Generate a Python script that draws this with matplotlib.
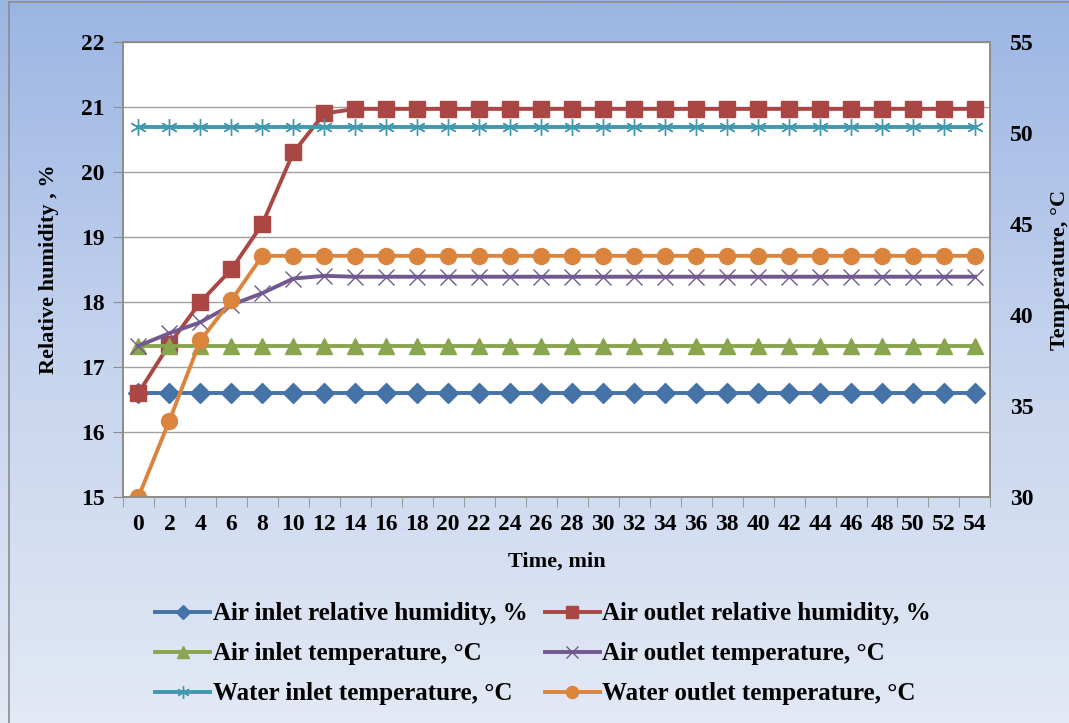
import numpy as np
import matplotlib
matplotlib.use("Agg")
import matplotlib.pyplot as plt
from matplotlib.colors import LinearSegmentedColormap

plt.rcParams['font.family'] = ['Liberation Serif', 'DejaVu Serif']
plt.rcParams['font.weight'] = 'bold'

# time axis (categories)
time_min = list(range(0, 56, 2))
n = len(time_min)

# left axis (%)
air_in_rh = [16.6] * n
air_out_rh = [16.6, 17.35, 18.0, 18.5, 19.2, 20.3, 20.9] + [20.97] * (n - 7)

# right axis (deg C)
air_in_t = [38.3] * n
air_out_t = [38.3, 39.0, 39.6, 40.55, 41.2, 42.0, 42.15] + [42.1] * (n - 7)
water_in_t = [50.3] * n
water_out_t = [30.0, 34.2, 38.6, 40.8] + [43.25] * (n - 4)

c_blue = '#4572A7'
c_red = '#AA4643'
c_green = '#89A54E'
c_purple = '#71588F'
c_teal = '#4198AF'
c_orange = '#DB843D'

fig = plt.figure(figsize=(10.69, 7.23), dpi=100)

# gradient background
bg = fig.add_axes([0, 0, 1, 1], zorder=-10)
cmap = LinearSegmentedColormap.from_list('bg', ['#9bb5e3', '#c6d4ee', '#e3e9f5'])
grad = np.linspace(0, 1, 256).reshape(-1, 1)
bg.imshow(grad, aspect='auto', cmap=cmap, extent=[0, 1, 0, 1], origin='upper')
bg.set_xlim(0, 1)
bg.set_ylim(0, 1)
bg.axis('off')
bg.plot([0.008, 0.008], [0, 0.997], color='#8c8c8c', lw=1.2)
bg.plot([0.008, 1], [0.997, 0.997], color='#8c8c8c', lw=1.2)

ax = fig.add_axes([0.115, 0.3126, 0.8115, 0.6294])
ax.set_facecolor('white')
ax2 = ax.twinx()

x = np.arange(n)
lw = 2.8
ax.plot(x, air_in_rh, color=c_blue, lw=lw, marker='D', ms=10, label='Air inlet relative humidity, %')
ax.plot(x, air_out_rh, color=c_red, lw=lw, marker='s', ms=11.5, label='Air outlet relative humidity, %')
ax2.plot(x, air_in_t, color=c_green, lw=lw, marker='^', ms=11, label='Air inlet temperature, °C')
ax2.plot(x, air_out_t, color=c_purple, lw=lw, marker='x', ms=11, mew=1.0, label='Air outlet temperature, °C')
ax2.plot(x, water_in_t, color=c_teal, lw=lw, marker=(6, 2, 0), ms=12, mew=1.0, label='Water inlet temperature, °C')
ax2.plot(x, water_out_t, color=c_orange, lw=lw, marker='o', ms=11.5, label='Water outlet temperature, °C')

ax.set_xlim(-0.5, n - 0.5)
ax.set_ylim(15, 22)
ax2.set_ylim(30, 55)
ax.set_yticks(range(15, 23))
ax2.set_yticks(range(30, 56, 5))
ax.grid(axis='y', color='#a0a0a0', lw=1.0)
ax.set_axisbelow(True)

ax.set_xticks(x)
ax.set_xticklabels([str(t) for t in time_min])
ax.set_xticks(np.arange(-0.5, n, 1), minor=True)
ax.tick_params(axis='x', which='major', length=0, labelsize=17, pad=12)
ax.tick_params(axis='x', which='minor', length=7, color='#8c8c8c', direction='out')
ax.tick_params(axis='y', length=7, color='#8c8c8c', labelsize=17, pad=6)
ax2.tick_params(axis='y', length=0, labelsize=17, pad=14)

for a in (ax, ax2):
    for s in a.spines.values():
        s.set_color('#8c8c8c')
        s.set_linewidth(1.2)

ax.set_xlabel('Time, min', fontsize=16, fontweight='bold', labelpad=12)
ax.set_ylabel('Relative humidity , %', fontsize=16, fontweight='bold', labelpad=16)
ax2.set_ylabel('Temperature, °C', fontsize=16, fontweight='bold', labelpad=12)

h1, l1 = ax.get_legend_handles_labels()
h2, l2 = ax2.get_legend_handles_labels()
handles = [h1[0], h2[0], h2[2], h1[1], h2[1], h2[3]]
labels = [l1[0], l2[0], l2[2], l1[1], l2[1], l2[3]]
leg = fig.legend(handles, labels, loc='center', bbox_to_anchor=(0.508, 0.0955), ncol=2,
                 frameon=False, fontsize=18, handlelength=2.2, handletextpad=0.1,
                 columnspacing=0.7, labelspacing=0.68, markerscale=0.75)

fig.savefig('out.png', dpi=100)
